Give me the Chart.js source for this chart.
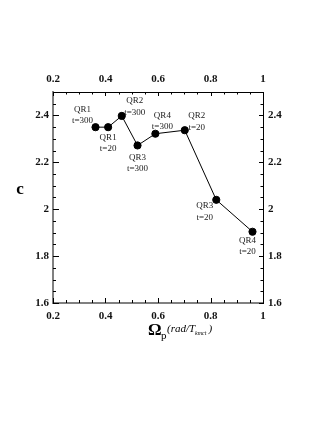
<!DOCTYPE html>
<html>
<head>
<meta charset="utf-8">
<script src="https://cdn.jsdelivr.net/npm/chart.js@4"></script>
<style>
  html, body { margin: 0; padding: 0; background: #fff; }
  #wrap { width: 327px; height: 423px; position: relative; }
</style>
</head>
<body>
<div id="wrap"><canvas id="c"></canvas></div>
<script>
// Wave celerity c against peak frequency, one point per run.
var omegaP = [0.362, 0.41, 0.462, 0.522, 0.59, 0.702, 0.822, 0.96];
var celerity = [2.35, 2.35, 2.398, 2.272, 2.322, 2.337, 2.04, 1.904];
var caseNames = ["QR1", "QR1", "QR2", "QR3", "QR4", "QR2", "QR3", "QR4"];
var durations = ["t=300", "t=20", "t=300", "t=300", "t=300", "t=20", "t=20", "t=20"];

var xTicks = [0.2, 0.4, 0.6, 0.8, 1];
var yTicks = [1.6, 1.8, 2, 2.2, 2.4];

// label placement around each point: [dx, dy] of the first line centre
var labelOffsets = [[-13, -18], [0, 10], [13, -15], [0, 12], [7, -18.5], [12, -14.5], [-11.5, 6], [-5, 8.5]];

var SERIF = "'Liberation Serif', 'DejaVu Serif', serif";
var AXIS_GRAY = "#808080";

// ticks point into the plot area, majors on labelled values, minors every 0.05
var inwardTicks = {
  id: "inwardTicks",
  afterDraw: function (chart) {
    var ctx = chart.ctx, a = chart.chartArea;
    var sx = chart.scales.x, sy = chart.scales.y;
    ctx.save();
    ctx.strokeStyle = "#000";
    ctx.lineWidth = 1;
    function isMajor(v, list) {
      return list.some(function (t) { return Math.abs(t - v) < 1e-6; });
    }
    ctx.beginPath();
    for (var v = sx.min; v <= sx.max + 1e-6; v += 0.05) {
      var px = Math.round(sx.getPixelForValue(v)) + 0.5;
      var lb = isMajor(v, xTicks) ? 5 : 3;
      var lt = isMajor(v, xTicks) ? 4 : 2.5;
      ctx.moveTo(px, a.bottom); ctx.lineTo(px, a.bottom - lb);
      ctx.moveTo(px, a.top); ctx.lineTo(px, a.top + lt);
    }
    for (var w = sy.min; w <= sy.max + 1e-6; w += 0.05) {
      var py = Math.round(sy.getPixelForValue(w)) + 0.5;
      var ll = isMajor(w, yTicks) ? 6 : 3;
      var lr = isMajor(w, yTicks) ? 4 : 2.5;
      ctx.moveTo(a.left, py); ctx.lineTo(a.left + ll, py);
      ctx.moveTo(a.right, py); ctx.lineTo(a.right - lr, py);
    }
    ctx.stroke();
    ctx.restore();
  }
};

// two-line case labels next to each point
var pointLabels = {
  id: "pointLabels",
  afterDatasetsDraw: function (chart) {
    var ctx = chart.ctx;
    var meta = chart.getDatasetMeta(0);
    ctx.save();
    ctx.fillStyle = "#222";
    ctx.font = "9px " + SERIF;
    ctx.textAlign = "center";
    ctx.textBaseline = "middle";
    meta.data.forEach(function (pt, i) {
      var off = labelOffsets[i];
      ctx.fillText(caseNames[i], pt.x + off[0], pt.y + off[1]);
      ctx.fillText(durations[i], pt.x + off[0], pt.y + off[1] + 11.5);
    });
    ctx.restore();
  }
};

// axis titles: bold "c" and Omega_p (rad/T_kmct)
var axisTitles = {
  id: "axisTitles",
  afterDraw: function (chart) {
    var ctx = chart.ctx, a = chart.chartArea;
    ctx.save();
    ctx.fillStyle = "#000";
    ctx.textBaseline = "alphabetic";
    ctx.textAlign = "center";
    ctx.font = "bold 17px " + SERIF;
    ctx.fillText("c", 20, (a.top + a.bottom) / 2 - 4);

    var y0 = a.bottom + 32;
    ctx.textAlign = "left";
    ctx.font = "bold 17px " + SERIF;
    ctx.fillText("\u03A9", 148, y0);
    ctx.font = "11px " + SERIF;
    ctx.fillText("p", 161, y0 + 4);
    ctx.font = "italic 11px " + SERIF;
    ctx.fillText("(rad/T", 167, y0 - 3);
    var w = ctx.measureText("(rad/T").width;
    ctx.font = "italic 6px " + SERIF;
    ctx.fillText("kmct", 167 + w, y0);
    var w2 = ctx.measureText("kmct").width;
    ctx.font = "italic 11px " + SERIF;
    ctx.fillText(")", 169 + w + w2, y0 - 3);
    ctx.restore();
  }
};

function fixTicks(list) {
  return function (scale) {
    scale.ticks = list.map(function (v) { return { value: v }; });
  };
}
function fixSize(size, horizontal) {
  return function (scale) {
    if (horizontal) scale.height = size; else scale.width = size;
  };
}
function plainNumber(v) {
  return String(+Number(v).toFixed(2));
}

var tickFont = { family: SERIF, size: 11, weight: "bold" };

new Chart(document.getElementById("c"), {
  type: "scatter",
  data: {
    datasets: [{
      data: omegaP.map(function (x, i) { return { x: x, y: celerity[i] }; }),
      showLine: true,
      borderColor: "#000",
      borderWidth: 1,
      backgroundColor: "#000",
      pointRadius: 3.6,
      pointHoverRadius: 3.6
    }]
  },
  options: {
    responsive: true,
    maintainAspectRatio: false,
    animation: false,
    layout: { padding: 0 },
    plugins: { legend: { display: false }, tooltip: { enabled: false } },
    scales: {
      x: {
        type: "linear", position: "bottom", min: 0.2, max: 1,
        afterBuildTicks: fixTicks(xTicks),
        afterFit: fixSize(120, true),
        grid: { display: false, drawTicks: false },
        border: { color: AXIS_GRAY, width: 2 },
        ticks: { color: "#111", font: tickFont, padding: 7, callback: plainNumber }
      },
      x2: {
        type: "linear", position: "top", min: 0.2, max: 1,
        afterBuildTicks: fixTicks(xTicks),
        afterFit: fixSize(92, true),
        grid: { display: false, drawTicks: false },
        border: { color: "#000", width: 1 },
        ticks: { color: "#111", font: tickFont, padding: 6, callback: plainNumber }
      },
      y: {
        type: "linear", position: "left", min: 1.6, max: 2.5,
        afterBuildTicks: fixTicks(yTicks),
        afterFit: fixSize(53, false),
        grid: { display: false, drawTicks: false },
        border: { color: AXIS_GRAY, width: 2 },
        ticks: { color: "#111", font: tickFont, padding: 4, callback: plainNumber }
      },
      y2: {
        type: "linear", position: "right", min: 1.6, max: 2.5,
        afterBuildTicks: fixTicks(yTicks),
        afterFit: fixSize(64, false),
        grid: { display: false, drawTicks: false },
        border: { color: "#000", width: 1 },
        ticks: { color: "#111", font: tickFont, padding: 5, callback: plainNumber }
      }
    }
  },
  plugins: [inwardTicks, pointLabels, axisTitles]
});
</script>
</body>
</html>
